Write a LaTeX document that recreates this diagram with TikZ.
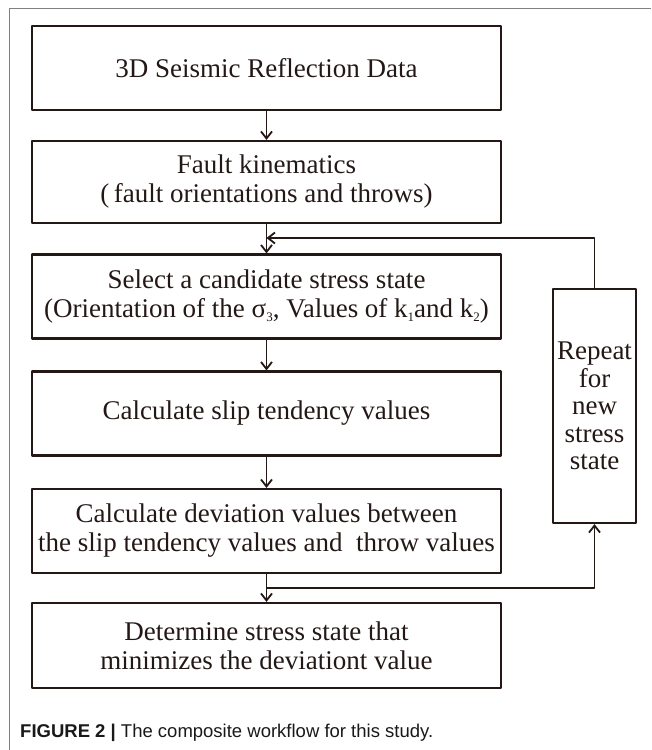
\documentclass[tikz,border=0pt]{standalone}
\usepackage{fontspec}
\setmainfont{Liberation Serif}
\setsansfont{Liberation Sans}
\usetikzlibrary{arrows.meta}
\definecolor{ink}{HTML}{231815}
\newcommand{\lowsub}[1]{{\fontsize{13}{13}\selectfont\raisebox{-4pt}{#1}}}
\begin{document}
\begin{tikzpicture}[x=1pt,y=-1pt,>={Straight Barb[length=7pt,width=11pt]},line join=round,
	font=\fontsize{27}{29}\selectfont,
	stepbox/.style={draw=ink,line width=2.2pt,minimum width=469pt,minimum height=84pt,align=center,inner sep=0pt,text=ink},
	flow/.style={->,draw=ink,line width=1.8pt}]
	\useasboundingbox (0,0) rectangle (651,750);
	\draw [gray,line width=.9pt] (9,750)--(9,8)--(651,8);
	\node [stepbox] (data) at (266.5,68) {3D Seismic Reflection Data};
	\node [stepbox,minimum height=82pt] (fault) at (266.5,182) {Fault kinematics\\(\,fault orientations and throws)};
	\node [stepbox] (select) at (266.5,296.5) {Select a candidate stress state\\(Orientation of the σ\lowsub{3}, Values of k\lowsub{1}and k\lowsub{2})};
	\node [stepbox] (slip) at (266.5,413.5) {Calculate slip tendency values};
	\node [stepbox] (deviation) at (266.5,531) {Calculate deviation values between\\the slip tendency values and \ throw values};
	\node [stepbox,minimum height=85pt] (determine) at (266.5,645.5) {Determine stress state that\\minimizes the deviationt value};
	\node [stepbox,minimum width=83pt,minimum height=234pt,font=\fontsize{27}{27.5}\selectfont] (repeat) at (594.5,406) {Repeat\\for\\new\\stress\\state};
	\path (266.5,238) coordinate (back)
	(266.5,588) coordinate (split);
	\draw [flow] (data)--(fault);
	\draw [flow] (fault)--(select);
	\draw [flow] (select)--(slip);
	\draw [flow] (slip)--(deviation);
	\draw [flow] (deviation)--(determine);
	\draw [flow] (repeat.north) |- (back);
	\draw [flow] (split) -| (repeat.south);
	\node [anchor=west,inner sep=0pt,font=\sffamily\fontsize{18.5}{20}\selectfont,text=black!90] (caption) at (20,733) {\textbf{FIGURE 2 |} The composite workflow for this study.};
\end{tikzpicture}
\end{document}
